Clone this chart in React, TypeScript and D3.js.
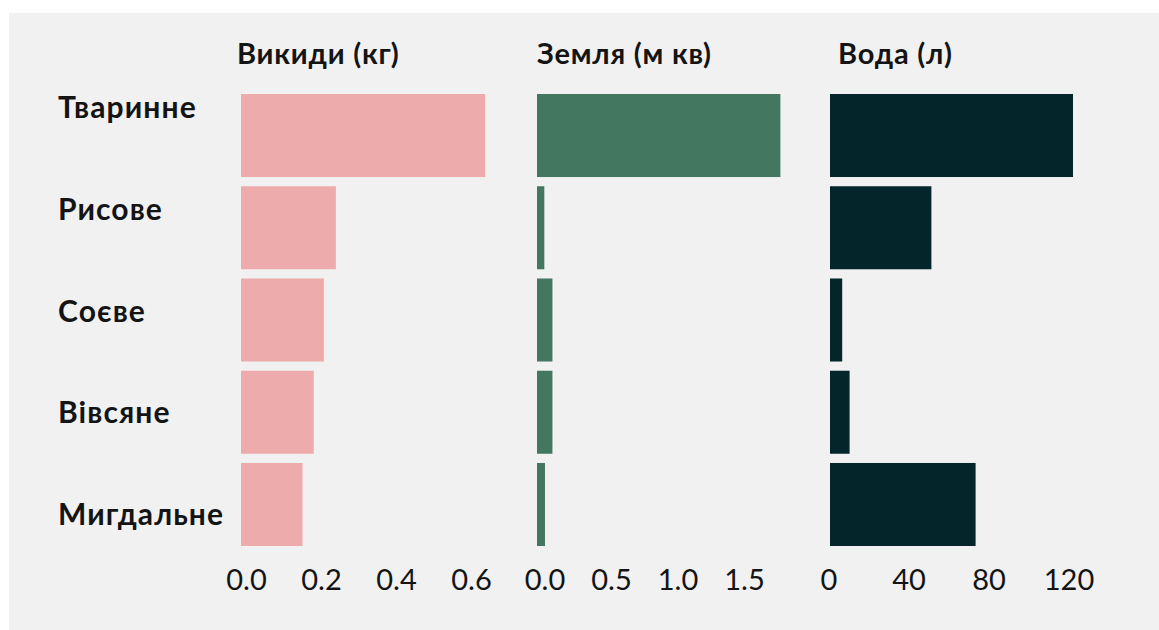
import { useEffect, useRef } from "react";
import * as d3 from "d3";

// milk types (y categories)
const categories = ["Тваринне", "Рисове", "Соєве", "Вівсяне", "Мигдальне"];

// values per glass
const emissions = [0.651, 0.253, 0.221, 0.194, 0.164];
const land = [1.83, 0.055, 0.116, 0.116, 0.06];
const water = [121.5, 50.7, 6.1, 9.8, 72.8];

const titles = ["Викиди (кг)", "Земля (м кв)", "Вода (л)"];
const emissionTicks = [0, 0.2, 0.4, 0.6];
const landTicks = [0, 0.5, 1, 1.5];
const waterTicks = [0, 40, 80, 120];

function App() {
  const svgRef = useRef<SVGSVGElement>(null);

  const width = 1159;
  const height = 630;

  useEffect(() => {
    const svg = d3.select(svgRef.current);
    svg.selectAll("*").remove();

    const font = "Lato, 'Noto Sans', sans-serif";

    svg.append("rect")
      .attr("width", width)
      .attr("height", height)
      .attr("fill", "#ffffff");

    svg.append("rect")
      .attr("x", 9)
      .attr("y", 13)
      .attr("width", width - 9)
      .attr("height", height - 13)
      .attr("fill", "#f1f1f1");

    const y = d3.scaleBand().domain(categories).range([94, 546]).paddingInner(0.1);
    const yLabel = d3.scalePoint().domain(categories).range([106, 513]);

    svg.append("g")
      .selectAll("text")
      .data(categories)
      .join("text")
      .attr("x", 58)
      .attr("y", (d) => yLabel(d)!)
      .attr("dominant-baseline", "central")
      .attr("font-family", font)
      .attr("font-weight", 700)
      .attr("font-size", "30px")
      .attr("letter-spacing", "1.1px")
      .attr("fill", "#141414")
      .text((d) => d);

    const panels = [
      { values: emissions, domain: [0, 0.7], range: [241, 241 + 375 * 0.7], ticks: emissionTicks, fmt: d3.format(".1f"), color: "#edabab", labelDx: 5.5, titleDx: -4 },
      { values: land, domain: [0, 2], range: [537, 537 + 133 * 2], ticks: landTicks, fmt: d3.format(".1f"), color: "#43775f", labelDx: 8, titleDx: 0 },
      { values: water, domain: [0, 130], range: [830, 830 + 2 * 130], ticks: waterTicks, fmt: d3.format("d"), color: "#04262a", labelDx: -1, titleDx: 8 },
    ];

    panels.forEach((p, i) => {
      const x = d3.scaleLinear().domain(p.domain).range(p.range);
      const g = svg.append("g");

      g.append("text")
        .attr("x", x(0) + p.titleDx)
        .attr("y", 64)
        .attr("font-family", font)
        .attr("font-weight", 700)
        .attr("font-size", "29px")
        .attr("letter-spacing", "0.8px")
        .attr("fill", "#141414")
        .text(titles[i]);

      g.selectAll("rect")
        .data(p.values)
        .join("rect")
        .attr("x", x(0))
        .attr("y", (d, j) => y(categories[j])!)
        .attr("width", (d) => x(d) - x(0))
        .attr("height", y.bandwidth())
        .attr("fill", p.color);

      g.selectAll("text.tick")
        .data(p.ticks)
        .join("text")
        .attr("class", "tick")
        .attr("x", (d) => x(d) + p.labelDx)
        .attr("y", 590)
        .attr("text-anchor", "middle")
        .attr("font-family", font)
        .attr("font-size", "29px")
        .attr("fill", "#141414")
        .text((d) => p.fmt(d));
    });
  }, []);

  return (
    <div style={{ position: "absolute", left: 0, top: 0 }}>
      <svg width={width} height={height} viewBox={`0 0 ${width} ${height}`} ref={svgRef} style={{ display: "block" }}></svg>
    </div>
  );
}

export default App;
